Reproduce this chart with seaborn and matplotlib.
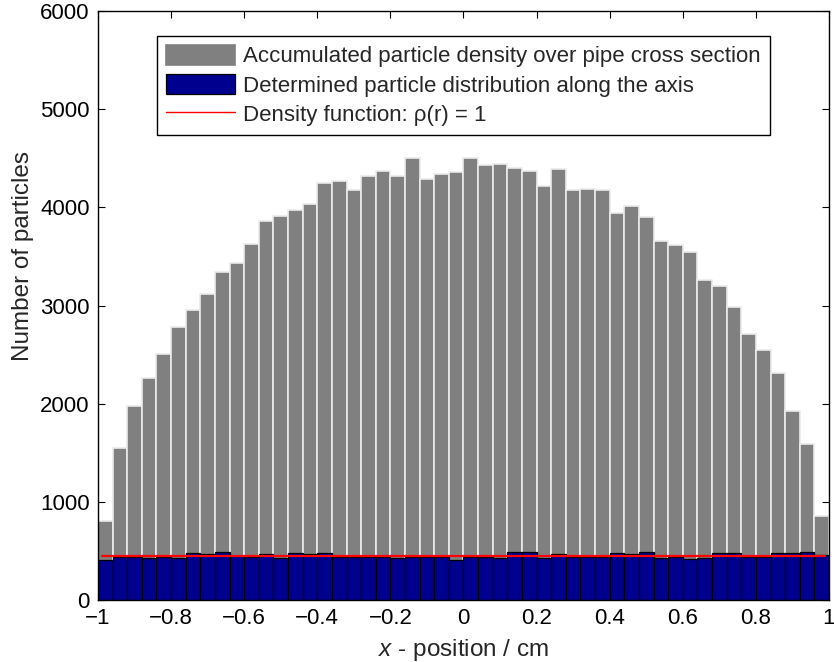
import numpy as np
import pandas as pd
import matplotlib
matplotlib.use("Agg")
import matplotlib.pyplot as plt
import seaborn as sns

# bin edges: 50 bins over the pipe diameter
bin_edges = list(np.round(np.linspace(-1, 1, 51), 4))
bin_centers = [round(-0.98 + 0.04 * i, 4) for i in range(50)]

# accumulated particle density over the cross section (gray bars)
accumulated = [805, 1545, 1976, 2258, 2502, 2783, 2960, 3116, 3347, 3436,
               3632, 3864, 3917, 3975, 4040, 4250, 4274, 4182, 4325, 4372,
               4318, 4501, 4295, 4338, 4362, 4501, 4434, 4448, 4403, 4372,
               4216, 4393, 4176, 4192, 4176, 3941, 4020, 3907, 3656, 3622,
               3544, 3259, 3204, 2984, 2709, 2546, 2315, 1928, 1586, 856]

# determined distribution along the axis (blue bars)
along_axis = [405, 438, 438, 424, 438, 424, 476, 465, 492, 445,
              438, 465, 424, 476, 465, 476, 438, 438, 438, 438,
              424, 438, 438, 438, 405, 438, 438, 424, 486, 486,
              424, 469, 438, 438, 438, 476, 469, 486, 424, 438,
              414, 424, 476, 476, 438, 438, 476, 476, 486, 462]

density_x = [-0.99, 0.99]
density_y = [452, 452]

xticks = [-1, -0.8, -0.6, -0.4, -0.2, 0, 0.2, 0.4, 0.6, 0.8, 1]
xtick_labels = ["\u22121", "\u22120.8", "\u22120.6", "\u22120.4", "\u22120.2",
                "0", "0.2", "0.4", "0.6", "0.8", "1"]
yticks = [0, 1000, 2000, 3000, 4000, 5000, 6000]

labels = ['Accumulated particle density over pipe cross section',
          'Determined particle distribution along the axis',
          'Density function: \u03c1(r) = 1']

df = pd.DataFrame({"x": bin_centers, "acc": accumulated, "axis": along_axis})

sns.set_style("ticks")
plt.rcParams['font.family'] = ['Liberation Sans', 'DejaVu Sans']
plt.rcParams['mathtext.fontset'] = 'custom'
plt.rcParams['mathtext.rm'] = 'Liberation Sans'
plt.rcParams['mathtext.it'] = 'Liberation Sans:italic'

fig = plt.figure(figsize=(8.34, 6.62), dpi=100)
ax = fig.add_axes([0.1175, 0.0937, 0.8765, 0.8893])

sns.histplot(data=df, x="x", weights="acc", bins=bin_edges, ax=ax,
             color='#808080', edgecolor='#ebebeb', linewidth=1.2, alpha=1,
             label=labels[0])
sns.histplot(data=df, x="x", weights="axis", bins=bin_edges, ax=ax,
             color='#00008f', edgecolor='black', linewidth=0.9, alpha=1,
             label=labels[1])
sns.lineplot(x=density_x, y=density_y, ax=ax, color='red', linewidth=1.6,
             label=labels[2])

ax.set_xlim(-1, 1)
ax.set_ylim(0, 6000)
ax.set_xticks(xticks)
ax.set_xticklabels(xtick_labels)
ax.set_yticks(yticks)
ax.tick_params(direction='in', length=5, width=0.8, labelsize=16,
               top=True, right=True, colors='black', pad=6)
for sp in ax.spines.values():
    sp.set_visible(True)
    sp.set_color('black')
    sp.set_linewidth(1.0)

ax.set_xlabel('$x$ - position / cm', fontsize=17.5)
ax.xaxis.set_label_coords(0.5, -0.063)
ax.set_ylabel('Number of particles', fontsize=17.5)
ax.yaxis.set_label_coords(-0.088, 0.584)

# put legend entries in the reference order
h, l = ax.get_legend_handles_labels()
order = [l.index(s) for s in labels]
leg = ax.legend([h[i] for i in order], [l[i] for i in order],
                loc='upper center', bbox_to_anchor=(0.5, 0.958),
                borderaxespad=0, fontsize=16, fancybox=False,
                framealpha=1, edgecolor='black', handlelength=3.1,
                handleheight=1.0, labelspacing=0.3, borderpad=0.4,
                handletextpad=0.36)
leg.get_frame().set_linewidth(1.0)
leg.legend_handles[0].set_edgecolor('#808080')
leg.legend_handles[2].set_linewidth(1.0)

fig.savefig('out.png', dpi=100)
